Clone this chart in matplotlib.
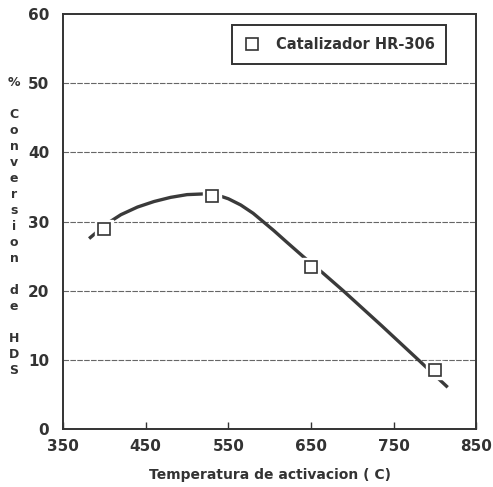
import matplotlib
matplotlib.use("Agg")
import matplotlib.pyplot as plt

# datos medidos (marcadores)
temp = [400, 530, 650, 800]
conversion = [29.0, 33.7, 23.4, 8.5]

# curva de ajuste
curve_t = [383, 395, 407, 420, 440, 460, 480, 500, 520, 535, 550, 565, 580, 592,
           605, 620, 640, 665, 689, 735, 780, 814]
curve_c = [27.7, 28.9, 30.0, 31.0, 32.1, 32.9, 33.5, 33.9, 34.0, 33.9, 33.3, 32.4,
           31.2, 30.0, 28.7, 27.1, 25.0, 22.5, 20.0, 15.0, 10.0, 6.2]

xticks = [350, 450, 550, 650, 750, 850]
yticks = [0, 10, 20, 30, 40, 50, 60]

plt.rcParams['font.family'] = 'DejaVu Sans'
plt.rcParams['font.weight'] = 'bold'

fig = plt.figure(figsize=(4.93, 4.87), dpi=100)
ax = fig.add_axes([0.128, 0.119, 0.838, 0.852])

ax.plot(curve_t, curve_c, color='#3a3a3a', lw=2.4, zorder=3, solid_joinstyle='round')
# halo blanco alrededor de los marcadores
ax.plot(temp, conversion, ls='none', marker='s', ms=13, mfc='white', mec='white', zorder=4)
ax.plot(temp, conversion, ls='none', marker='s', ms=9, mfc='white', mec='#333333',
        mew=1.2, zorder=5, label='Catalizador HR-306')

ax.set_xlim(350, 850)
ax.set_ylim(0, 60)
ax.set_xticks(xticks)
ax.set_yticks(yticks)
ax.tick_params(axis='x', direction='in', length=5, width=1, pad=7, labelsize=11, colors='#333333')
ax.tick_params(axis='y', length=0, pad=10, labelsize=11, colors='#333333')
for s in ax.spines.values():
    s.set_linewidth(1.4)
    s.set_color('#333333')

for v in [10, 20, 30, 40, 50]:
    ax.axhline(v, color='#666666', lw=0.8, ls=(0, (5, 1.2)), zorder=1)

ax.set_xlabel('Temperatura de activacion ( C)', fontsize=10, fontweight='bold',
              color='#333333', labelpad=10)

ylab = "%\n\nC\no\nn\nv\ne\nr\ns\ni\no\nn\n\nd\ne\n\nH\nD\nS"
fig.text(14 / 493, 1 - 226 / 487, ylab, fontsize=9, fontweight='bold', color='#333333',
         ha='center', va='center', linespacing=1.3)

leg = ax.legend(loc='upper right', bbox_to_anchor=(0.927, 0.973), fontsize=10.5,
                fancybox=False, edgecolor='#333333', framealpha=1,
                handletextpad=1.0, borderpad=0.8, borderaxespad=0, handlelength=1.2)
leg.get_frame().set_linewidth(1.4)
for t in leg.get_texts():
    t.set_color('#333333')

fig.savefig('out.png', dpi=100)
